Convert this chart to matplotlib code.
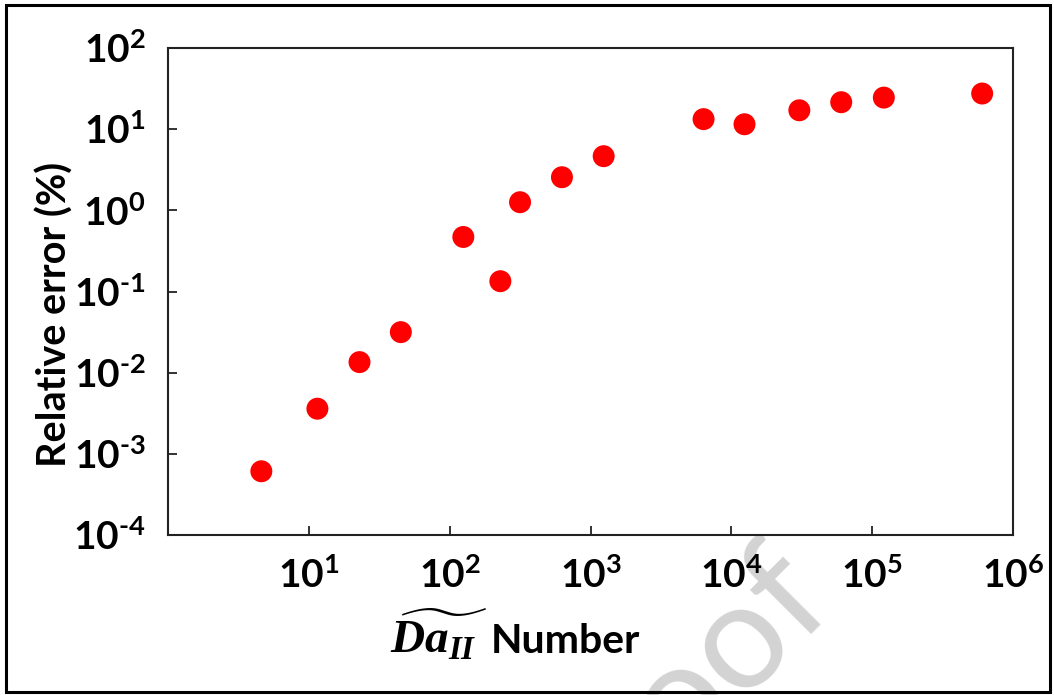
import matplotlib
matplotlib.use("Agg")
import matplotlib.pyplot as plt
from matplotlib.patches import Rectangle

plt.rcParams["font.family"] = ["Lato", "DejaVu Sans"]
plt.rcParams["mathtext.fontset"] = "custom"
plt.rcParams["mathtext.bf"] = "Lato:bold"
plt.rcParams["mathtext.rm"] = "Lato"
plt.rcParams["mathtext.it"] = "Liberation Serif:italic:bold"

# Damkohler number vs. relative error of the simplified model
da_number = [4.6, 11.5, 22.9, 45, 125, 229, 316, 627, 1240,
             6350, 12400, 30400, 60300, 121000, 604000]
rel_error = [6.1e-4, 3.6e-3, 0.0135, 0.0316, 0.47, 0.134, 1.26, 2.56, 4.65,
             13.3, 11.5, 17.1, 21.5, 24.5, 27.5]

x_exponents = [1, 2, 3, 4, 5, 6]
y_exponents = [-4, -3, -2, -1, 0, 1, 2]


def pow10_label(e):
    # short hyphen instead of the wide math minus
    exp = str(e).replace("-", "\u2010")
    return rf"$\mathbf{{10^{{{exp}}}}}$"


def main():
    fig = plt.figure(figsize=(10.54, 6.95), dpi=100)
    ax = fig.add_axes([0.1594, 0.2302, 0.8017, 0.7007])

    ax.scatter(da_number, rel_error, s=250, color="#ff0000",
               edgecolors="none", zorder=3, clip_on=False)

    ax.set_xscale("log")
    ax.set_yscale("log")
    ax.set_xlim(1, 1e6)
    ax.set_ylim(1e-4, 1e2)

    ax.set_xticks([10.0 ** e for e in x_exponents])
    ax.set_xticklabels([pow10_label(e) for e in x_exponents])
    ax.set_yticks([10.0 ** e for e in y_exponents])
    ax.set_yticklabels([pow10_label(e) for e in y_exponents])
    ax.minorticks_off()

    ax.tick_params(direction="in", length=6.5, width=1.3, labelsize=28,
                   color="#222222")
    ax.tick_params(axis="x", pad=16)
    ax.tick_params(axis="y", pad=16)
    for spine in ax.spines.values():
        spine.set_linewidth(1.5)
        spine.set_color("#222222")

    fig.text(0.052, 0.547, "Relative error (%)", rotation=90, fontsize=28.5,
             fontweight="bold", ha="center", va="center")
    fig.text(0.462, 0.060, r"$\widetilde{\mathit{Da_{II}}}$", fontsize=34,
             ha="right", va="baseline")
    fig.text(0.466, 0.060, "Number", fontsize=29.5, fontweight="bold",
             ha="left", va="baseline")

    # "Journal Pre-proof" stamp behind everything, running off the bottom edge
    fig.text(0.795, 0.126, "Journal Pre-proof", rotation=45,
             rotation_mode="anchor", ha="right", va="baseline",
             fontsize=108, color="#d3d3d3", zorder=-1)

    fig.patches.append(Rectangle((6 / 1054, 3 / 695), 1044 / 1054, 687 / 695,
                                 transform=fig.transFigure, fill=False,
                                 linewidth=2.2, edgecolor="black"))

    fig.savefig("out.png", dpi=100)


if __name__ == "__main__":
    main()
